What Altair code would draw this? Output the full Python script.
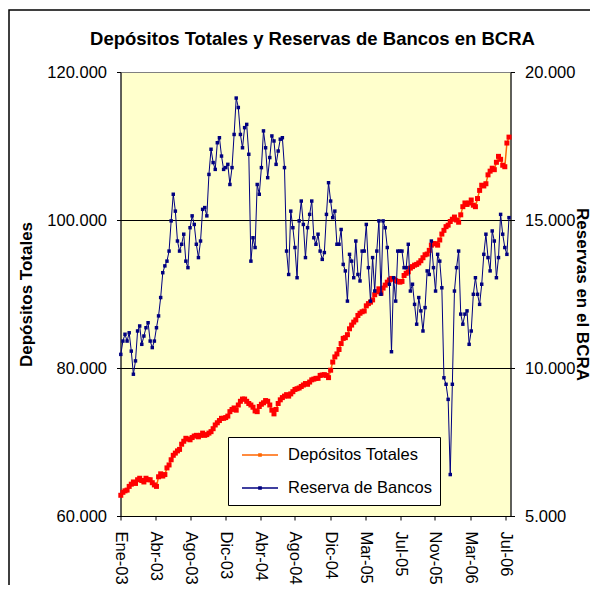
import altair as alt
import pandas as pd

# Weekly sample dates (Fri) read along the category axis
fechas = pd.date_range("2003-01-03", periods=186, freq="7D")

# Depósitos Totales (miles de millones -> x1000 on axis)
dep_k = [
    62.8, 63.2, 63.4, 63.5, 64.0, 64.3, 64.6, 64.4, 64.9, 65.1,
    64.8, 64.6, 65.1, 64.9, 64.9, 64.5, 64.2, 64.0, 65.3, 65.7,
    65.4, 65.6, 66.5, 66.9, 67.6, 68.2, 68.5, 68.8, 69.0, 69.7,
    70.1, 70.5, 70.4, 70.3, 70.6, 70.8, 70.9, 70.7, 70.9, 71.2,
    70.9, 71.0, 71.2, 71.4, 71.8, 72.3, 72.6, 72.9, 73.2, 73.2,
    73.3, 73.5, 74.1, 74.4, 74.6, 74.3, 75.0, 75.5, 75.8, 75.8,
    75.5, 75.2, 75.0, 74.7, 74.2, 74.1, 74.8, 75.1, 75.3, 75.6,
    75.5, 75.0, 74.3, 73.8, 74.4, 75.2, 75.7, 76.0, 76.2, 76.4,
    76.2, 76.5, 76.8, 77.1, 77.2, 77.3, 77.5, 77.7, 77.9, 77.8,
    78.1, 78.4, 78.5, 78.6, 78.6,
    79.0, 79.05, 79.1, 79.0, 78.7, 79.7, 80.8, 81.5, 81.9, 82.5,
    83.3, 84.0, 84.1, 84.5, 85.3, 85.8, 86.2, 86.5, 87.1, 87.4,
    87.6, 87.7, 88.4, 88.7, 88.9, 89.2, 89.9, 90.3, 90.7,
    90.1, 90.8, 91.2, 91.6, 91.9, 92.1, 92.0, 91.8, 91.7, 91.6,
    91.7, 92.5, 92.8, 93.0, 93.5, 93.7, 93.9, 94.0, 94.2, 94.5,
    94.9, 95.3, 95.4, 95.9, 96.6, 96.8, 96.8, 96.6, 97.3, 98.1,
    98.6, 99.1, 99.3, 99.8, 100.1, 100.4, 100.0, 99.7, 100.7, 101.8,
    102.3, 102.1, 102.3, 102.7, 102.0, 101.8, 102.9, 104.0, 104.7, 104.6,
    104.9, 106.1, 106.6, 107.0, 106.8, 107.8, 108.6, 108.2, 107.4, 107.2,
    110.4, 111.2,
]

# Reserva de Bancos en el BCRA
res_k = [
    10.46, 10.91, 11.14, 10.91, 11.19, 10.57, 9.79, 10.24, 11.25, 11.42,
    10.80, 11.08, 11.36, 11.53, 10.91, 10.69, 10.91, 11.36, 11.76, 12.38,
    13.22, 13.45, 13.61, 13.95, 14.97, 15.87, 15.30, 14.29, 13.95, 14.18,
    14.52, 13.61, 13.39, 14.74, 15.14, 14.85, 14.18, 13.73, 14.29, 15.36,
    15.42, 15.14, 16.54, 17.39, 16.94, 16.71, 17.61, 17.78, 17.16, 16.71,
    16.77, 16.88, 16.20, 16.77, 17.89, 19.12, 18.80, 17.89, 17.44, 18.12,
    18.23, 17.22, 13.61, 14.40,
    14.07, 16.20, 15.87, 16.77, 18.01, 17.44, 16.43, 17.11, 17.84, 17.67,
    16.88, 17.33, 17.73, 17.78, 16.77, 13.95, 13.16, 15.30, 14.74, 14.07,
    13.05, 14.97, 15.64, 14.85, 13.73, 14.74, 15.19, 15.64, 14.40, 14.18,
    14.52, 13.95, 13.67, 13.90, 15.19, 16.26, 15.64, 15.08, 15.30, 14.18,
    14.18, 14.68, 13.50, 13.28, 12.26, 13.84, 13.61, 13.05, 14.29, 13.16,
    12.94, 13.95, 13.95, 14.85, 13.39, 12.26, 13.73, 12.60, 13.95, 14.97,
    12.49, 14.97, 14.74, 14.07, 12.83, 10.55, 13.05, 12.26, 13.95, 13.95,
    13.95, 13.39, 13.39, 14.18, 12.60, 12.83, 12.15, 11.48, 12.38, 11.93,
    11.25, 12.04, 13.28, 13.16, 14.29, 13.39, 12.60, 13.84, 13.61, 12.71,
    9.67, 9.45, 8.94, 6.40, 9.45, 12.60, 13.39, 13.95, 11.82, 11.48,
    11.82, 11.93, 10.80, 11.25, 12.49, 13.05, 12.49, 12.15, 12.83, 13.84,
    14.52, 13.73, 13.28, 14.63, 14.29, 13.05, 13.73, 15.19, 14.52, 14.07,
    13.84, 15.08,
]

series = ["Depósitos Totales", "Reserva de Bancos"]
series_colors = ["#FF6600", "#000080"]
tick_dates = [(2003, 1, 2), (2003, 4, 28), (2003, 8, 23), (2003, 12, 17),
              (2004, 4, 12), (2004, 8, 6), (2004, 12, 2), (2005, 3, 28),
              (2005, 7, 23), (2005, 11, 16), (2006, 3, 13), (2006, 7, 8)]
dep_ticks = [60000, 80000, 100000, 120000]
res_ticks = [5000, 10000, 15000, 20000]

df = pd.DataFrame({
    "fecha": fechas,
    "dep": [v * 1000 for v in dep_k],
    "res": [v * 1000 for v in res_k],
    "s_dep": series[0],
    "s_res": series[1],
})

FONT = "Liberation Sans"
W, H = 390, 444
num_fmt = "replace(format(datum.value, ',.0f'), ',', '.')"
mes = "['Ene','Feb','Mar','Abr','May','Jun','Jul','Ago','Sep','Oct','Nov','Dic'][month(datum.value)] + '-' + timeFormat(datum.value, '%y')"

x_enc = alt.X(
    "fecha:T",
    scale=alt.Scale(domain=[alt.DateTime(year=2003, month=1, date=2),
                            alt.DateTime(year=2006, month=7, date=26)]),
    axis=alt.Axis(values=[alt.DateTime(year=y, month=m, date=d) for y, m, d in tick_dates],
                  labelExpr=mes, labelAngle=90, title=None, grid=False,
                  tickSize=4, labelPadding=11, labelFontSize=16.5),
)

color_scale = alt.Scale(domain=series, range=series_colors)
legend = alt.Legend(
    orient="none", legendX=107.5, legendY=365, title=None,
    fillColor="white", strokeColor="black", padding=8,
    symbolType="M-2,0H2M-0.12,-0.12H0.12V0.12H-0.12Z",
    symbolSize=324, symbolStrokeWidth=1.5, symbolOffset=14,
    labelFont=FONT, labelFontSize=16.5, labelOffset=18, rowPadding=14,
)

y_dep = alt.Y(
    "dep:Q",
    scale=alt.Scale(domain=[60000, 120000], nice=False, zero=False),
    axis=alt.Axis(values=dep_ticks, labelExpr=num_fmt, title="Depósitos Totales",
                  titleAngle=-90, titleX=-94, titleY=H / 2, titleAlign="center",
                  titleBaseline="middle", titleFontSize=17, titleFontWeight="bold",
                  grid=True,
                  gridColor=alt.condition("datum.value == 120000", alt.value("#808080"), alt.value("black")),
                  tickSize=4, labelPadding=10, labelFontSize=16.5),
)
y_res = alt.Y(
    "res:Q",
    scale=alt.Scale(domain=[5000, 20000], nice=False, zero=False),
    axis=alt.Axis(orient="right", values=res_ticks, labelExpr=num_fmt,
                  title="Reservas en el BCRA", titleAngle=90, titleX=70.5,
                  titleY=H / 2, titleAlign="center", titleBaseline="middle",
                  titleFontSize=17, titleFontWeight="bold", grid=False,
                  tickSize=4, labelPadding=10, labelFontSize=16.5),
)

base = alt.Chart(df)
dep_line = base.mark_line(strokeWidth=1.5).encode(
    x=x_enc, y=y_dep,
    color=alt.Color("s_dep:N", scale=color_scale, legend=legend))
dep_pts = base.mark_square(size=25, color="#FF0000", opacity=1).encode(x=x_enc, y=y_dep)
res_line = base.mark_line(strokeWidth=1).encode(
    x=x_enc, y=y_res,
    color=alt.Color("s_res:N", scale=color_scale, legend=legend))
res_pts = base.mark_square(size=12, color="#000080", opacity=1).encode(x=x_enc, y=y_res)

dep_layer = alt.layer(dep_line, dep_pts)
res_layer = alt.layer(res_line, res_pts)

frame = alt.Chart(pd.DataFrame({"k": [0]})).mark_rect(
    fill="transparent", stroke="black", strokeWidth=1.5
).encode(x=alt.value(-111.5), y=alt.value(-62), x2=alt.value(700), y2=alt.value(700))

chart = alt.layer(dep_layer, res_layer, frame).resolve_scale(y="independent").properties(
    width=W, height=H,
    title=alt.TitleParams("Depósitos Totales y Reservas de Bancos en BCRA",
                          font=FONT, fontSize=18.5, fontWeight="bold", color="black",
                          anchor="middle", frame="group", baseline="alphabetic",
                          offset=0, dx=-3, dy=54),
    padding={"left": 112.5, "top": 64, "right": 79.5, "bottom": 69},
    autosize=alt.AutoSizeParams(type="none"),
).configure_view(
    fill="#FFFFCC", stroke="#808080"
).configure_axis(
    labelFont=FONT, titleFont=FONT, labelColor="black", titleColor="black",
    domainColor="black", tickColor="black", domainWidth=1, tickWidth=1,
).configure_legend(
    labelColor="black"
)

chart.save("out.html", embed_options={"renderer": "svg", "actions": False})
